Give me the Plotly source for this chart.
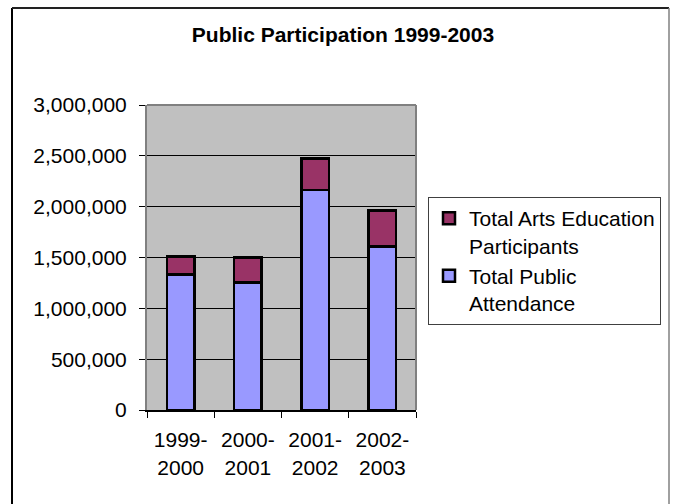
import plotly.graph_objects as go

# ---- data ----
categories = ["1999-<br>2000", "2000-<br>2001", "2001-<br>2002", "2002-<br>2003"]
public_attendance = [1335000, 1256000, 2164000, 1606000]
arts_education = [173000, 242000, 312000, 354000]
series_names = ["Total Public<br>Attendance", "Total Arts Education<br>Participants"]
title_text = "<b>Public Participation 1999-2003</b>"

W, H = 674, 504
L, R, T, B = 147, 416, 105, 410  # plot area pixel bounds
FONT = "Liberation Sans, Arial, sans-serif"


def px_x(px):
    return (px - L) / (R - L)


def px_y(py):
    return (B - py) / (B - T)


fig = go.Figure()
fig.add_trace(go.Bar(
    x=categories, y=public_attendance, name=series_names[0],
    marker=dict(color="#9999FF", line=dict(color="black", width=2.5)),
))
fig.add_trace(go.Bar(
    x=categories, y=arts_education, name=series_names[1],
    marker=dict(color="#993366", line=dict(color="black", width=2.5)),
))

shapes = [
    # plot area top/right border (gray)
    dict(type="line", xref="paper", yref="paper", x0=0, x1=1, y0=1, y1=1,
         line=dict(color="#808080", width=2)),
    dict(type="line", xref="paper", yref="paper", x0=1, x1=1, y0=0, y1=1,
         line=dict(color="#808080", width=2)),
    # outer chart border
    dict(type="line", xref="paper", yref="paper", x0=px_x(12), x1=px_x(12),
         y0=px_y(8), y1=px_y(520), line=dict(color="black", width=2)),
    dict(type="line", xref="paper", yref="paper", x0=px_x(12), x1=px_x(669),
         y0=px_y(8), y1=px_y(8), line=dict(color="#222222", width=2)),
    dict(type="line", xref="paper", yref="paper", x0=px_x(669), x1=px_x(669),
         y0=px_y(8), y1=px_y(520), line=dict(color="#808080", width=1.5)),
]

fig.update_layout(
    width=W, height=H,
    barmode="stack",
    bargap=0.59,
    paper_bgcolor="white",
    plot_bgcolor="#C0C0C0",
    margin=dict(l=L, r=W - R, t=T, b=H - B, pad=0),
    font=dict(family=FONT, size=21, color="black"),
    title=dict(text=title_text, x=343 / W, xanchor="center",
               y=1 - 35 / H, yanchor="middle", yref="container",
               font=dict(family=FONT, size=21, color="black")),
    legend=dict(
        x=px_x(428), y=px_y(197), xanchor="left", yanchor="top",
        traceorder="reversed", bgcolor="white",
        bordercolor="#404040", borderwidth=1,
        font=dict(family=FONT, size=21, color="black"),
        valign="top",
    ),
    shapes=shapes,
    showlegend=True,
)

fig.update_yaxes(
    range=[0, 3000000], dtick=500000, tickformat=",",
    showgrid=True, gridcolor="black", gridwidth=1,
    showline=True, linecolor="#808080", linewidth=2,
    ticks="outside", ticklen=6, tickcolor="black", tickwidth=1,
    ticklabelstandoff=8, zeroline=False, fixedrange=True,
)
fig.update_xaxes(
    showline=True, linecolor="black", linewidth=2,
    ticks="outside", ticklen=6, tickcolor="black", tickwidth=1,
    tickson="boundaries", showgrid=False,
    ticklabelstandoff=10, fixedrange=True,
)

fig.write_html("out.html")
